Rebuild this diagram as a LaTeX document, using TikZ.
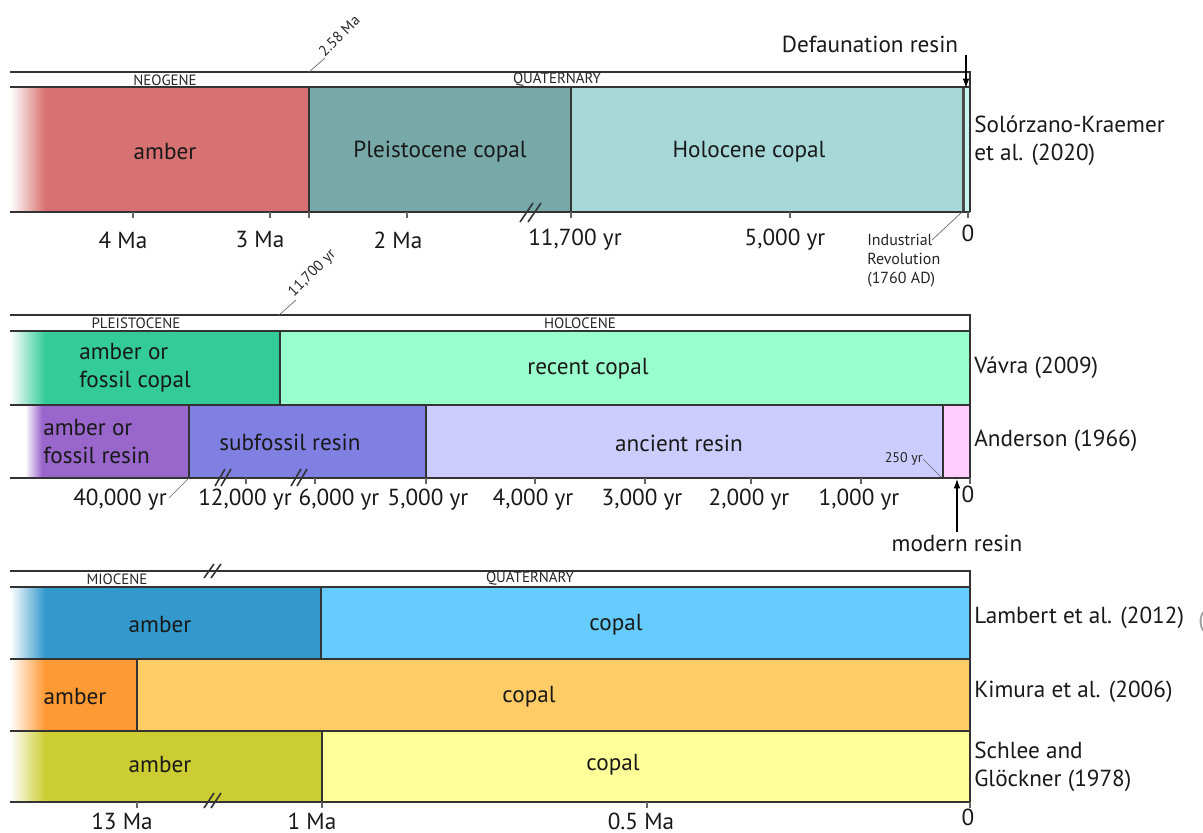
\documentclass[tikz,border=0pt]{standalone}
\usepackage{fontspec}
\setmainfont{PT Sans}
\usetikzlibrary{arrows.meta}
\definecolor{ambRed}{HTML}{D87272}
\definecolor{pleiC}{HTML}{78A9A9}
\definecolor{holoC}{HTML}{A6D8D8}
\definecolor{defaC}{HTML}{C8F4F4}
\definecolor{vavA}{HTML}{33CC99}
\definecolor{vavC}{HTML}{99FFCC}
\definecolor{andA}{HTML}{9966CC}
\definecolor{andS}{HTML}{8080E3}
\definecolor{andN}{HTML}{CCCCFF}
\definecolor{andM}{HTML}{FFCCFF}
\definecolor{lamA}{HTML}{3399CC}
\definecolor{lamC}{HTML}{66CCFF}
\definecolor{kimA}{HTML}{FF9933}
\definecolor{kimC}{HTML}{FFCC66}
\definecolor{schA}{HTML}{CCCC33}
\definecolor{schC}{HTML}{FFFF99}
\definecolor{lineC}{HTML}{333333}
\begin{document}
\begin{tikzpicture}[x=0.75pt,y=-0.75pt,
  outl/.style={draw=lineC, line width=0.8pt},
  thinl/.style={draw=black!60, line width=0.5pt},
  tickl/.style={draw=black!60, line width=0.8pt},
  brk/.style={draw=lineC, line width=1.2pt},
  lab/.style={font=\fontsize{17.4}{21}\selectfont, inner sep=0pt, text=black!90},
  reflab/.style={lab, anchor=west, align=left},
  perlab/.style={font=\fontsize{11.2}{12}\selectfont, inner sep=0pt, text=black!85},
  smalllab/.style={font=\fontsize{12}{14.3}\selectfont, inner sep=0pt, text=black!85}]
\useasboundingbox (0,0) rectangle (1203,832);
\fill[white] (0,0) rectangle (1203,832);

% ================= TOP PANEL =================
\shade[left color=white, right color=ambRed] (10,87) rectangle (45,212);
\fill[ambRed] (45,87) rectangle (309,212);
\fill[pleiC] (309,87) rectangle (571,212);
\fill[holoC] (571,87) rectangle (962,212);
\fill[black!70] (962,87) rectangle (964.5,212);
\fill[defaC] (964.5,87) rectangle (970,212);
\draw[outl] (10,72) -- (970,72) -- (970,212);
\draw[outl] (10,87) -- (970,87);
\draw[outl] (10,212) -- (970,212);
\draw[outl] (309,87) -- (309,212);
\draw[outl] (571,87) -- (571,212);
\foreach \t in {133,270,309,407,571,790,968} \draw[tickl] (\t,212) -- (\t,218);
\draw[brk] (520,222) -- (533,203);
\draw[brk] (528,222) -- (541,203);

\node[perlab] (neo) at (165,80) {NEOGENE};
\node[perlab] (qua1) at (557,80) {QUATERNARY};
\coordinate (b258) at (309,72);
\node[perlab, rotate=45, anchor=south west] (t258) at (325,58) {2.58 Ma};
\draw[thinl] (b258) -- (t258.south west);

\node[lab] (amb1) at (165,152) {amber};
\node[lab] (pc) at (440,152) {Pleistocene copal};
\node[lab] (hc) at (749,152) {Holocene copal};

\node[lab] (l4) at (123,240) {4 Ma};
\node[lab] (l3) at (260,240) {3 Ma};
\node[lab] (l2) at (398,240) {2 Ma};
\node[lab] (l117) at (575,240) {11,700 yr};
\node[lab] (l5k) at (785,240) {5,000 yr};
\node[lab] (l0a) at (968,233) {0};

\node[lab] (def) at (870,44) {Defaunation resin};
\coordinate (defTop) at (966,55);
\coordinate (defBot) at (966,88);
\draw[line width=0.8pt, -{Latex[length=7pt,width=5pt]}] (defTop) -- (defBot);

\node[smalllab, anchor=north west, align=left] (ind) at (867,234) {Industrial\\Revolution\\(1760 AD)};
\coordinate (indP) at (962,212);
\draw[thinl] (indP) -- (932,240);

\node[reflab] (sk) at (974,141) {Solórzano-Kraemer\\et al. (2020)};

% ================= MIDDLE PANEL =================
\shade[left color=white, right color=vavA] (10,331) rectangle (45,405);
\fill[vavA] (45,331) rectangle (280,405);
\fill[vavC] (280,331) rectangle (970,405);
\shade[left color=white, right color=andA] (25,405) rectangle (42,478);
\fill[andA] (42,405) rectangle (189,478);
\fill[andS] (189,405) rectangle (426,478);
\fill[andN] (426,405) rectangle (943,478);
\fill[andM] (943,405) rectangle (970,478);
\draw[outl] (10,315) -- (970,315) -- (970,478);
\draw[outl] (10,331) -- (970,331);
\draw[outl] (10,405) -- (970,405);
\draw[outl] (10,478) -- (970,478);
\draw[outl] (280,331) -- (280,405);
\draw[outl] (189,405) -- (189,478);
\draw[outl] (426,405) -- (426,478);
\draw[outl] (943,405) -- (943,478);
\foreach \t in {246,315,426,535,645,751,861,970} \draw[tickl] (\t,478) -- (\t,484);
\draw[brk] (215,486) -- (225,469);
\draw[brk] (221,486) -- (231,469);
\draw[brk] (291,486) -- (301,469);
\draw[brk] (297,486) -- (307,469);

\node[perlab] (ple) at (136,323) {PLEISTOCENE};
\node[perlab] (hol) at (580,323) {HOLOCENE};
\coordinate (b117) at (279,315);
\node[perlab, rotate=45, anchor=south west] (t117) at (296,300) {11,700 yr};
\draw[thinl] (b117) -- (t117.south west);

\node[lab, anchor=west, align=left] (vafc) at (79,368) {amber or\\fossil copal};
\node[lab] (rc) at (588,369) {recent copal};
\node[lab, anchor=west, align=left] (anfr) at (43,442) {amber or\\fossil resin};
\node[lab] (sfr) at (290,442) {subfossil resin};
\node[lab] (anr) at (679,443) {ancient resin};
\node[font=\fontsize{10.5}{12}\selectfont, inner sep=0pt, anchor=east, text=black!85] (y250) at (923,459) {250 yr};
\coordinate (p250) at (941,477);
\draw[thinl] (y250.east) -- (p250);

\node[lab] (m40) at (120,500) {40,000 yr};
\coordinate (p40) at (189,478);
\draw[thinl] (p40) -- (169,498);
\node[lab] (m12) at (245,500) {12,000 yr};
\node[lab] (m6) at (339,500) {6,000 yr};
\node[lab] (m5) at (428,500) {5,000 yr};
\node[lab] (m4) at (533,500) {4,000 yr};
\node[lab] (m3) at (642,500) {3,000 yr};
\node[lab] (m2) at (749,500) {2,000 yr};
\node[lab] (m1) at (859,500) {1,000 yr};
\node[lab] (m0) at (968,494) {0};

\node[lab] (mod) at (957,543) {modern resin};
\coordinate (modB) at (957,479);
\draw[line width=0.8pt, -{Latex[length=7pt,width=5pt]}] (mod.north) ++(0,-2) -- (modB);

\node[reflab] (vav) at (974,368) {Vávra (2009)};
\node[reflab] (and) at (974,441) {Anderson (1966)};

% ================= BOTTOM PANEL =================
\shade[left color=white, right color=lamA] (10,587) rectangle (45,659);
\fill[lamA] (45,587) rectangle (321,659);
\fill[lamC] (321,587) rectangle (970,659);
\shade[left color=white, right color=kimA] (10,659) rectangle (45,731);
\fill[kimA] (45,659) rectangle (137,731);
\fill[kimC] (137,659) rectangle (970,731);
\shade[left color=white, right color=schA] (10,731) rectangle (45,802);
\fill[schA] (45,731) rectangle (322,802);
\fill[schC] (322,731) rectangle (970,802);
\draw[outl] (10,571) -- (970,571) -- (970,802);
\draw[outl] (10,587) -- (970,587);
\draw[outl] (10,659) -- (970,659);
\draw[outl] (10,731) -- (970,731);
\draw[outl] (10,802) -- (970,802);
\draw[outl] (321,587) -- (321,659);
\draw[outl] (137,659) -- (137,731);
\draw[outl] (322,731) -- (322,802);
\foreach \t in {137,322,647,970} \draw[tickl] (\t,802) -- (\t,808);
\draw[brk] (204,578) -- (214,564);
\draw[brk] (211,578) -- (221,564);
\draw[brk] (204,808) -- (214,793);
\draw[brk] (211,808) -- (221,793);

\node[perlab] (mio) at (117,579) {MIOCENE};
\node[perlab] (qua2) at (530,579) {QUATERNARY};

\node[lab] (la) at (160,625) {amber};
\node[lab] (lc) at (616,625) {copal};
\node[lab] (ka) at (75,697) {amber};
\node[lab] (kc) at (529,697) {copal};
\node[lab] (sa) at (160,765) {amber};
\node[lab] (sc) at (613,765) {copal};

\node[lab] (b13) at (122,821) {13 Ma};
\node[lab] (b1) at (312,821) {1 Ma};
\node[lab] (b05) at (641,821) {0.5 Ma};
\node[lab] (b0) at (968,817) {0};

\node[reflab] (lam) at (974,618) {Lambert et al. (2012)};
\node[reflab] (kim) at (974,692) {Kimura et al. (2006)};
\node[reflab] (sch) at (974,767) {Schlee and\\Glöckner (1978)};
\node[lab, anchor=west, text=black!40] (cut) at (1198,622) {(};
\end{tikzpicture}
\end{document}
